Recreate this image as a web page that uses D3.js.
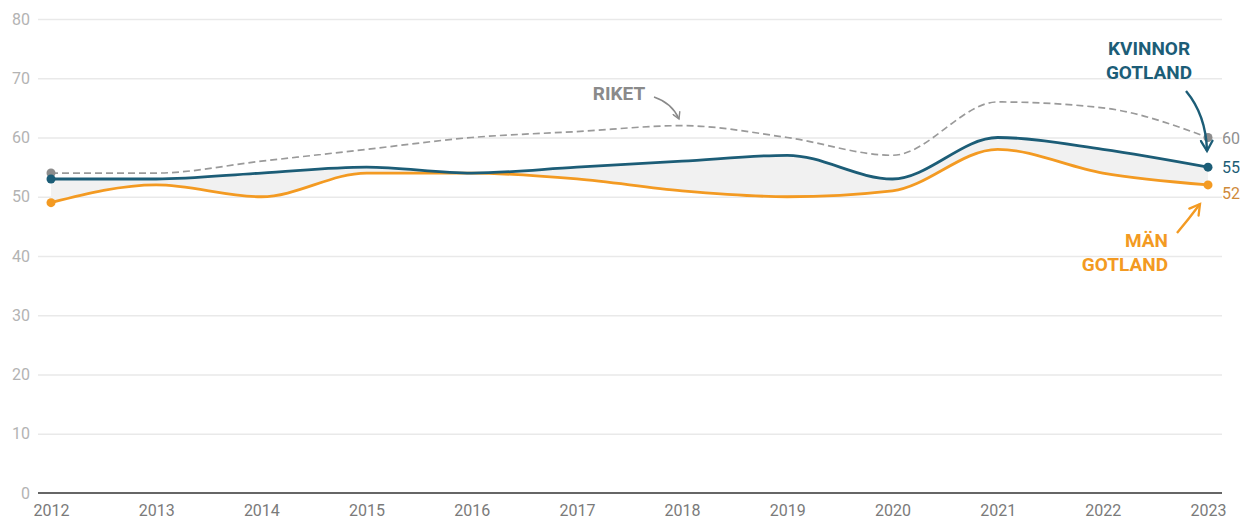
<!DOCTYPE html>
<html>
<head>
<meta charset="utf-8">
<script src="https://cdn.jsdelivr.net/npm/d3@7/dist/d3.min.js"></script>
<style>
  html, body { margin: 0; padding: 0; background: #fff; }
  svg { display: block; font-family: Roboto, "Noto Sans", sans-serif; }
</style>
</head>
<body>
<svg id="chart" width="1243" height="520"></svg>
<script>
// Years on the x axis
const years = [2012, 2013, 2014, 2015, 2016, 2017, 2018, 2019, 2020, 2021, 2022, 2023];
// Percentages per year
const riket   = [54, 54, 56, 58, 60, 61, 62, 60, 57, 66, 65, 60];
const kvinnor = [53, 53, 54, 55, 54, 55, 56, 57, 53, 60, 58, 55];
const man     = [49, 52, 50, 54, 54, 53, 51, 50, 51, 58, 54, 52];
// Y axis ticks
const yTicks = [0, 10, 20, 30, 40, 50, 60, 70, 80];

const COL_K = "#1c5d77";
const COL_M = "#f39a22";
const COL_R = "#9a9a9a";

const svg = d3.select("#chart");
const x = d3.scaleLinear().domain([2012, 2023]).range([51, 1208]);
const y = d3.scaleLinear().domain([0, 80]).range([493, 19]);

// Horizontal gridlines + y labels
const yAxis = d3.axisLeft(y).tickValues(yTicks).tickSize(-(1222 - 38)).tickPadding(8);
const gy = svg.append("g").attr("transform", "translate(38,0)").call(yAxis);
gy.select(".domain").remove();
gy.selectAll(".tick line").attr("stroke", "#e9e9e9").attr("stroke-width", 1.5);
gy.selectAll(".tick text").attr("fill", "#b3b3b3").attr("font-size", 16)
  .attr("font-family", "Roboto, sans-serif");
gy.selectAll(".tick").filter(d => d === 0).select("line").remove();

// Baseline and x labels
const xAxis = d3.axisBottom(x).tickValues(years).tickFormat(d3.format("d")).tickSize(0).tickPadding(12);
const gx = svg.append("g").attr("transform", "translate(0,493)").call(xAxis);
gx.select(".domain").remove();
gx.selectAll(".tick text").attr("fill", "#7a7a7a").attr("font-size", 16)
  .attr("font-family", "Roboto, sans-serif");
svg.append("line").attr("x1", 38).attr("x2", 1222).attr("y1", 493).attr("y2", 493)
  .attr("stroke", "#666").attr("stroke-width", 2);

const curve = d3.curveMonotoneX;
const idx = d3.range(years.length);

// Shaded gap between women and men
svg.append("path")
  .datum(idx)
  .attr("fill", "#f1f1f1")
  .attr("d", d3.area().curve(curve)
    .x(i => x(years[i])).y0(i => y(man[i])).y1(i => y(kvinnor[i])));

const line = arr => d3.line().curve(curve).x(i => x(years[i])).y(i => y(arr[i]))(idx);

svg.append("path").attr("d", line(riket)).attr("fill", "none")
  .attr("stroke", COL_R).attr("stroke-width", 1.7).attr("stroke-dasharray", "7,4");
svg.append("path").attr("d", line(man)).attr("fill", "none")
  .attr("stroke", COL_M).attr("stroke-width", 2.8);
svg.append("path").attr("d", line(kvinnor)).attr("fill", "none")
  .attr("stroke", COL_K).attr("stroke-width", 2.8);

// End-point dots and value labels (the lowest label nudged down to keep clear of the line)
const series = [
  { v: riket, c: "#8c8c8c", lc: "#8f8f8f", dy: 6 },
  { v: kvinnor, c: COL_K, lc: COL_K, dy: 6 },
  { v: man, c: COL_M, lc: "#cf8a3a", dy: 14 }
];
const last = years.length - 1;
series.forEach(s => {
  [0, last].forEach(i => {
    svg.append("circle").attr("cx", x(years[i])).attr("cy", y(s.v[i])).attr("r", 4.5).attr("fill", s.c);
  });
  svg.append("text").attr("x", x(years[last]) + 14).attr("y", y(s.v[last]) + s.dy)
    .attr("fill", s.lc).attr("font-size", 16).text(s.v[last]);
});

// Arrow heads
const defs = svg.append("defs");
function marker(id, color) {
  defs.append("marker").attr("id", id).attr("viewBox", "0 0 10 10").attr("refX", 8).attr("refY", 5)
    .attr("markerWidth", 6).attr("markerHeight", 6).attr("orient", "auto-start-reverse")
    .append("path").attr("d", "M1,1 L8,5 L1,9").attr("fill", "none")
    .attr("stroke", color).attr("stroke-width", 1.6).attr("stroke-linecap", "round");
}
marker("ak", COL_K); marker("am", COL_M); marker("ar", "#8a8a8a");

// Annotations
const ann = svg.append("g").attr("font-weight", 700).attr("font-size", 19);
ann.append("text").attr("x", 1149).attr("y", 55).attr("text-anchor", "middle").attr("fill", COL_K).text("KVINNOR");
ann.append("text").attr("x", 1149).attr("y", 79).attr("text-anchor", "middle").attr("fill", COL_K).text("GOTLAND");
svg.append("path").attr("d", "M1186,91 Q1206,115 1207,151").attr("fill", "none")
  .attr("stroke", COL_K).attr("stroke-width", 2.4).attr("marker-end", "url(#ak)");

ann.append("text").attr("x", 1168).attr("y", 247).attr("text-anchor", "end").attr("fill", COL_M).text("MÄN");
ann.append("text").attr("x", 1168).attr("y", 271).attr("text-anchor", "end").attr("fill", COL_M).text("GOTLAND");
svg.append("path").attr("d", "M1177,233 Q1188,220 1200,204").attr("fill", "none")
  .attr("stroke", COL_M).attr("stroke-width", 2.4).attr("marker-end", "url(#am)");

ann.append("text").attr("x", 619).attr("y", 100).attr("text-anchor", "middle").attr("fill", "#8a8a8a").text("RIKET");
svg.append("path").attr("d", "M654,97 Q672,103 679,119").attr("fill", "none")
  .attr("stroke", "#8a8a8a").attr("stroke-width", 1.5).attr("marker-end", "url(#ar)");
</script>
</body>
</html>
